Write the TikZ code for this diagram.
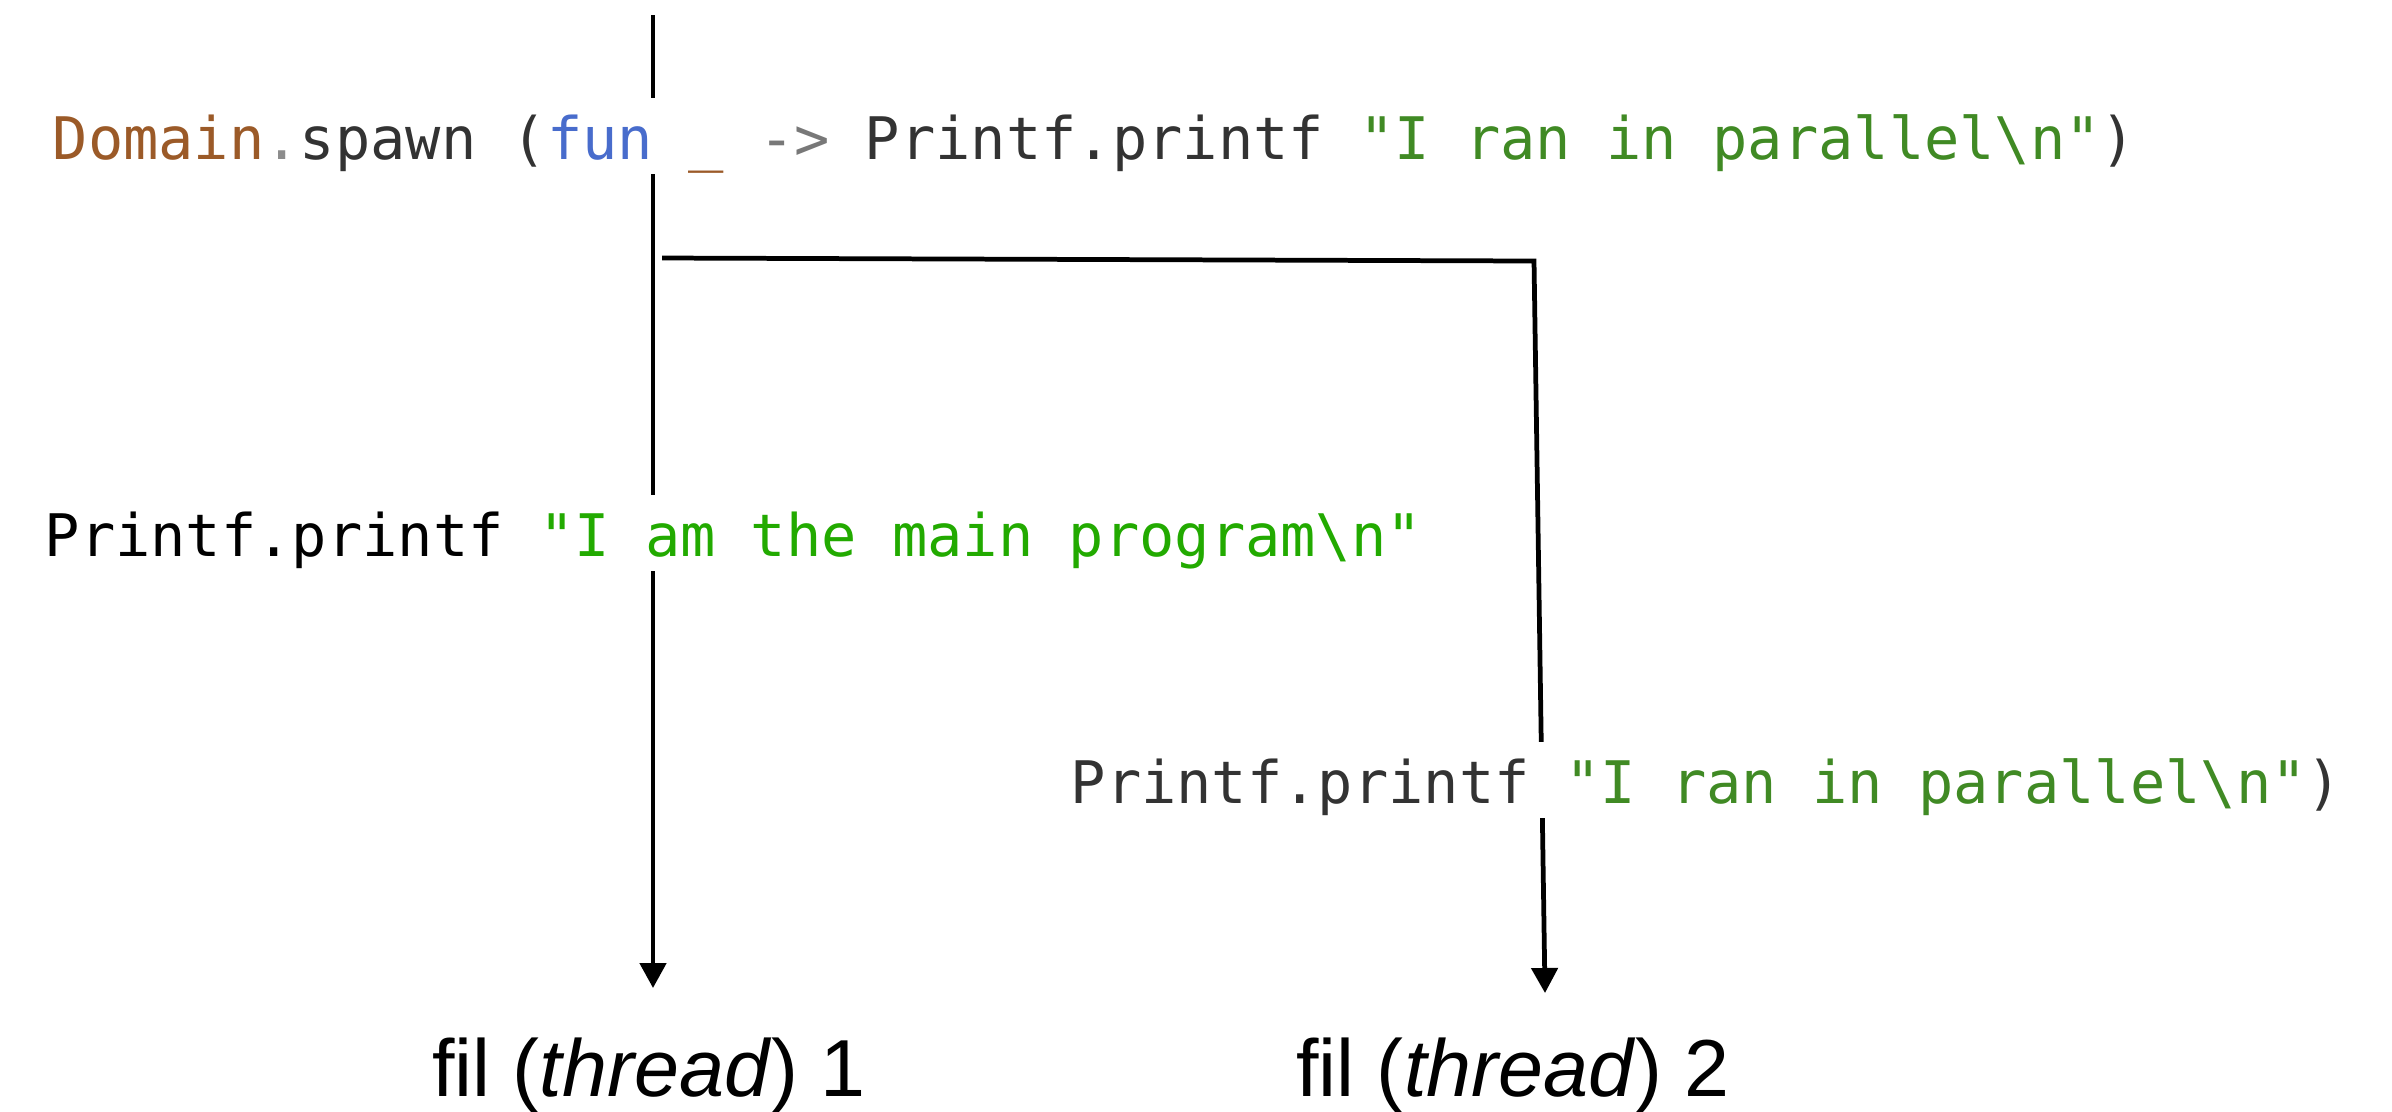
\documentclass[tikz,border=0pt]{standalone}
\usepackage{fontspec}
\usetikzlibrary{arrows.meta}
\newfontfamily\codefont{DejaVu Sans Mono}[Ligatures=TeXOff]
\newfontfamily\labfont{Liberation Sans}
\definecolor{kbrown}{RGB}{155,90,40}
\definecolor{kdot}{RGB}{140,140,140}
\definecolor{kdark}{RGB}{51,51,51}
\definecolor{kblue}{RGB}{72,108,204}
\definecolor{karrow}{RGB}{120,120,120}
\definecolor{kgreen}{RGB}{64,138,36}
\definecolor{kbright}{RGB}{34,170,0}
\tikzset{
  codetext/.style={font=\codefont\fontsize{16.68pt}{20pt}\selectfont, anchor=base west,
    fill=white, inner xsep=0pt, inner ysep=0pt, text height=0.61cm, text depth=0.15cm},
  labtext/.style={font=\labfont\fontsize{23pt}{27pt}\selectfont, anchor=base, inner sep=0pt},
  flow/.style={line width=1.35pt, draw=black},
  flowarrow/.style={flow, -{Triangle[width=0.26cm,length=0.25cm]}}
}
\begin{document}
\begin{tikzpicture}[x=0.01cm, y=-0.01cm]
\useasboundingbox[fill=white] (0,0) rectangle (2392,1111);
% coordinates
\coordinate (start1) at (653,15);
\coordinate (tip1) at (653,988);
\coordinate (fork) at (662,258);
\coordinate (corner) at (1534,261);
\coordinate (tip2) at (1545,993);
% connectors
\draw[flowarrow] (start1) -- (tip1);
\draw[flowarrow] (fork) -- (corner) -- (tip2);
% code lines
\node[codetext, text=kdark] (spawn) at (52,159)
  {\textcolor{kbrown}{Domain}\textcolor{kdot}{.}spawn (\textcolor{kblue}{fun} \textcolor{kbrown}{\_} \textcolor{karrow}{->} Printf.printf \textcolor{kgreen}{"I ran in parallel\textbackslash n"})};
\node[codetext, text=black] (main) at (44,556)
  {Printf.printf \textcolor{kbright}{"I am the main program\textbackslash n"}};
\node[codetext, text=kdark] (par) at (1070,803)
  {Printf.printf \textcolor{kgreen}{"I ran in parallel\textbackslash n"})};
% labels
\node[labtext] (thr1) at (649,1096) {fil (\textit{thread}) 1};
\node[labtext] (thr2) at (1513,1096) {fil (\textit{thread}) 2};
\end{tikzpicture}
\end{document}
